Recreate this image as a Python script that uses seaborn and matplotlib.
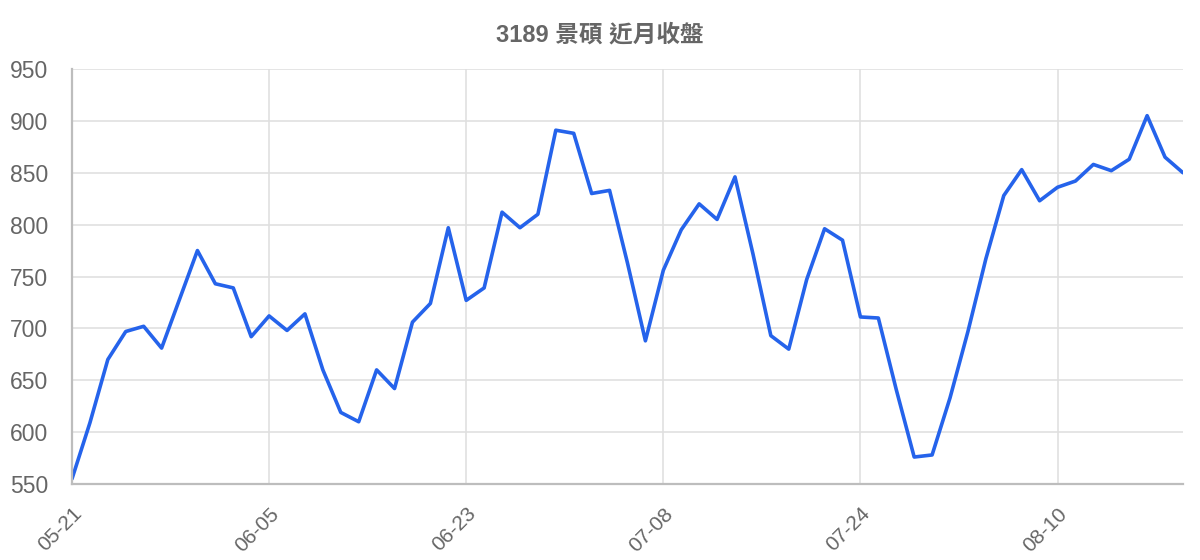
import matplotlib
matplotlib.use("Agg")
import matplotlib.pyplot as plt
import seaborn as sns
import pandas as pd

# trading days shown on the chart (month-day)
dates = [
    "05-21", "05-22", "05-25", "05-26", "05-27", "05-28", "05-29", "06-01", "06-02", "06-03",
    "06-04", "06-05", "06-08", "06-09", "06-10", "06-11", "06-12", "06-15", "06-16", "06-17",
    "06-18", "06-22", "06-23", "06-24", "06-25", "06-26", "06-29", "06-30", "07-01", "07-02",
    "07-03", "07-06", "07-07", "07-08", "07-09", "07-13", "07-14", "07-15", "07-16", "07-17",
    "07-20", "07-21", "07-22", "07-23", "07-24", "07-27", "07-28", "07-29", "07-30", "07-31",
    "08-03", "08-04", "08-05", "08-06", "08-07", "08-10", "08-11", "08-12", "08-13", "08-14",
    "08-17", "08-18", "08-19",
]
close = [
    555, 609, 670, 697, 702, 681, 728, 775, 743, 739,
    692, 712, 698, 714, 660, 619, 610, 660, 642, 706,
    724, 797, 727, 739, 812, 797, 810, 891, 888, 830,
    833, 763, 688, 756, 795, 820, 805, 846, 772, 693,
    680, 747, 796, 785, 711, 710, 641, 576, 578, 633,
    697, 767, 828, 853, 823, 836, 842, 858, 852, 863,
    905, 865, 850,
]
y_ticks = [550, 600, 650, 700, 750, 800, 850, 900, 950]
title = "3189 景碩 近月收盤"

df = pd.DataFrame({"idx": range(len(dates)), "date": dates, "close": close})

sns.set_theme(style="whitegrid")
plt.rcParams["font.family"] = ["Liberation Sans", "Noto Sans CJK TC", "DejaVu Sans"]

text_grey = "#666666"
grid_grey = "#e0e0e0"
axis_grey = "#bdbdbd"

fig = plt.figure(figsize=(12, 5.6), dpi=100)
ax = fig.add_axes([0.06, 0.1357, 0.9258, 0.7411])

sns.lineplot(data=df, x="idx", y="close", ax=ax, color="#2563eb", linewidth=2.6)

ax.set_xlim(0, len(dates) - 1)
ax.set_ylim(y_ticks[0], y_ticks[-1])
ax.set_yticks(y_ticks)
tick_idx = list(range(0, len(dates), 11))
ax.set_xticks(tick_idx)
ax.set_xticklabels([dates[i] for i in tick_idx], rotation=45, ha="right",
                   rotation_mode="anchor")
ax.set_xlabel("")
ax.set_ylabel("")

ax.grid(True, color=grid_grey, linewidth=1.2)
ax.tick_params(axis="y", length=14, width=1.2, color=grid_grey, pad=3,
               labelsize=16.5, labelcolor=text_grey)
ax.tick_params(axis="x", length=14.5, width=1.2, color=grid_grey, pad=0,
               labelsize=15, labelcolor=text_grey)

for side in ["top", "right"]:
    ax.spines[side].set_visible(False)
for side in ["left", "bottom"]:
    ax.spines[side].set_visible(True)
    ax.spines[side].set_color(axis_grey)
    ax.spines[side].set_linewidth(1.6)

fig.text(0.5, 0.937, title, ha="center", va="center", fontsize=17,
         fontweight="bold", color=text_grey)

fig.savefig("out.png", dpi=100, facecolor="white")
